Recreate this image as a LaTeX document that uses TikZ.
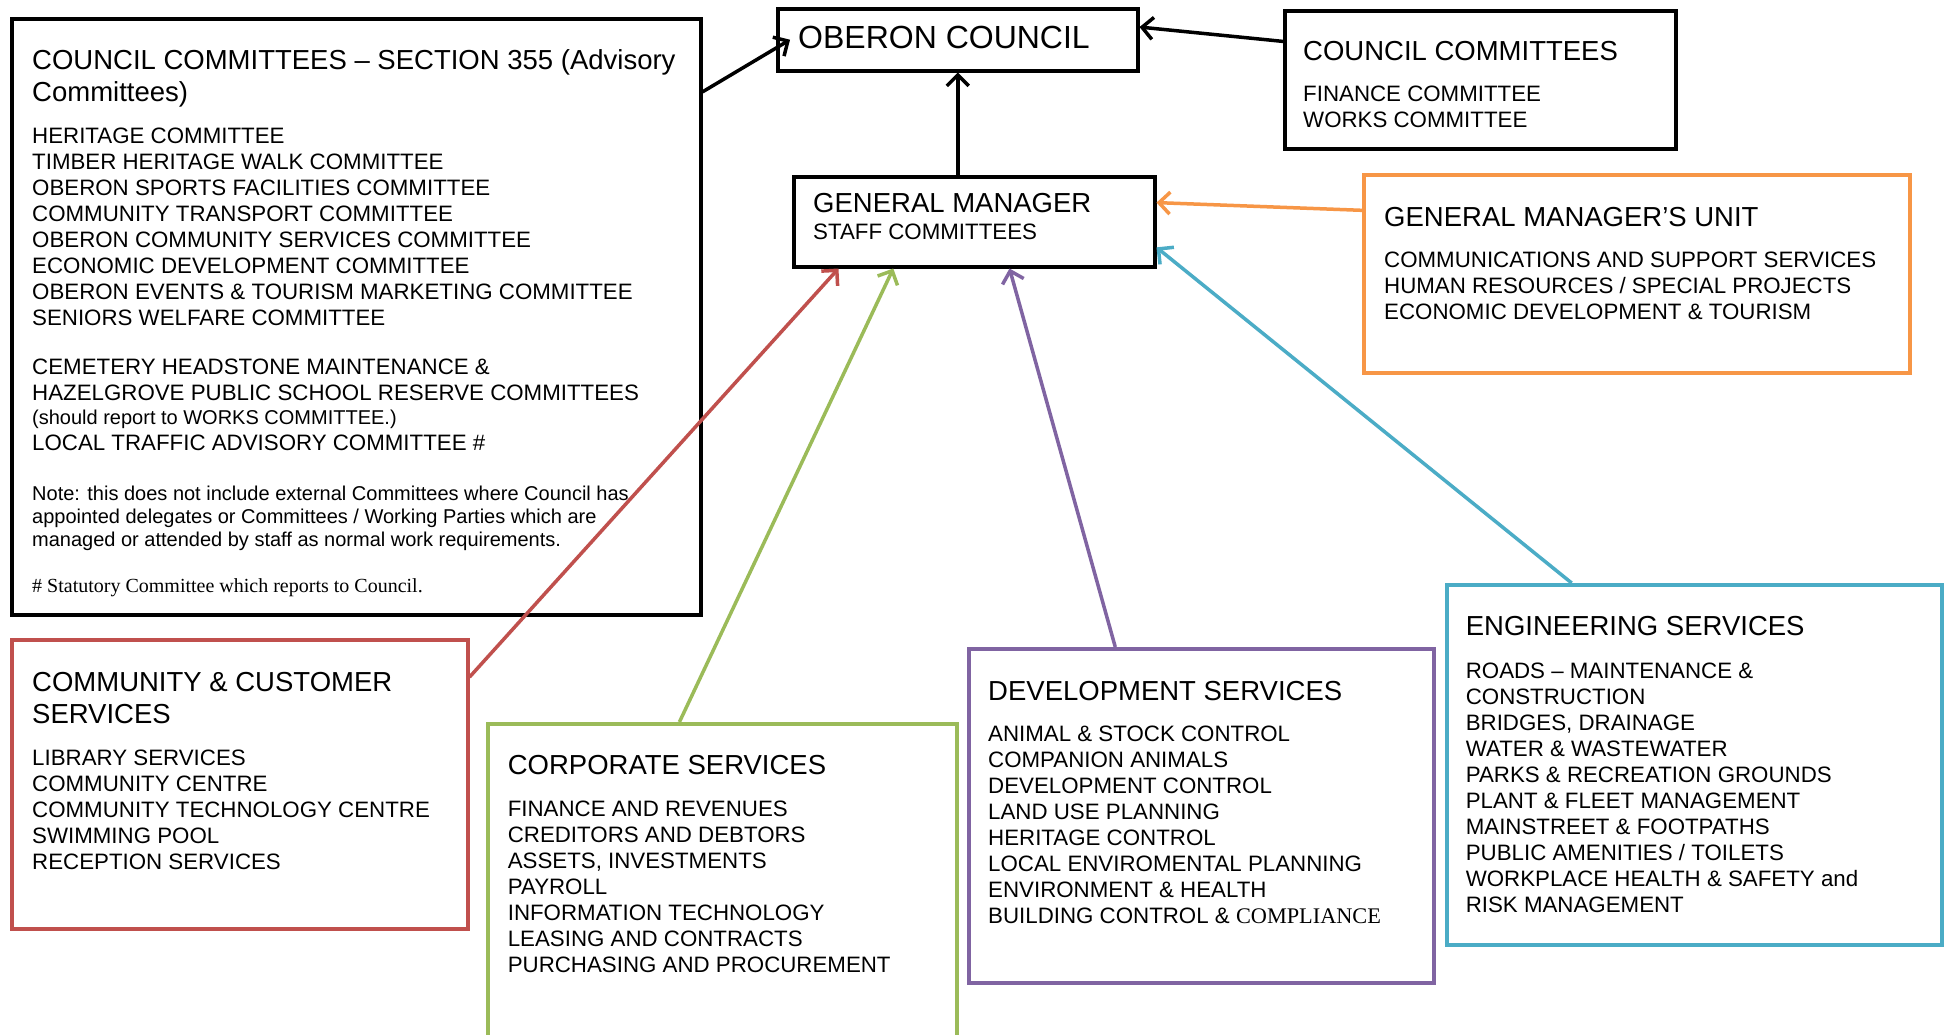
\documentclass[tikz,border=0pt]{standalone}
\usepackage{fontspec}
\setmainfont{Liberation Sans}
\newfontfamily\timesfam{Liberation Serif}
\usetikzlibrary{arrows.meta}
\definecolor{cRed}{HTML}{C0504D}
\definecolor{cGreen}{HTML}{9BBB59}
\definecolor{cPurple}{HTML}{8064A2}
\definecolor{cBlue}{HTML}{4BACC6}
\definecolor{cOrange}{HTML}{F79646}
\newcommand\fTitle{\fontsize{32}{37}\selectfont}
\newcommand\fHead{\fontsize{27.5}{32}\selectfont}
\newcommand\fList{\fontsize{22.3}{26}\selectfont}
\newcommand\fSmall{\fontsize{20}{23}\selectfont}
\begin{document}
\begin{tikzpicture}[x=1pt,y=-1pt,
  orgbox/.style={draw=#1, line width=3.5pt, fill=white, inner sep=0pt, anchor=north west},
  lbl/.style={inner sep=0pt, anchor=base west, align=left},
  arr/.style={draw=#1, line width=3.5pt, -{Straight Barb[length=11pt,width=22pt]}},
]
\useasboundingbox[fill=white] (0,0) rectangle (1946,1034);

% boxes
\node[orgbox=black, minimum width=689pt, minimum height=596pt] (s355) at (10,17) {};
\node[orgbox=black, minimum width=360pt, minimum height=62pt] (oberon) at (776,7) {};
\node[orgbox=black, minimum width=391pt, minimum height=138pt] (ccom) at (1283,9) {};
\node[orgbox=black, minimum width=361pt, minimum height=90pt] (gm) at (792,175) {};
\node[orgbox=cOrange, minimum width=546pt, minimum height=198pt] (gmu) at (1362,173) {};
\node[orgbox=cRed, minimum width=456pt, minimum height=289pt] (ccs) at (10,638) {};
\node[orgbox=cGreen, minimum width=469pt, minimum height=340pt] (corp) at (486,722) {};
\node[orgbox=cPurple, minimum width=465pt, minimum height=334pt] (dev) at (967,647) {};
\node[orgbox=cBlue, minimum width=495pt, minimum height=360pt] (eng) at (1445,583) {};

% (multi-line labels: anchor is the baseline of the LAST line)
% S355 texts
\node[lbl, font=\fHead] (s355h) at (32,101.5) {COUNCIL COMMITTEES – SECTION 355 (Advisory\\Committees)};
\node[lbl, font=\fList] (s355a) at (32,325.3) {HERITAGE COMMITTEE\\TIMBER HERITAGE WALK COMMITTEE\\OBERON SPORTS FACILITIES COMMITTEE\\COMMUNITY TRANSPORT COMMITTEE\\OBERON COMMUNITY SERVICES COMMITTEE\\ECONOMIC DEVELOPMENT COMMITTEE\\OBERON EVENTS \& TOURISM MARKETING COMMITTEE\\SENIORS WELFARE COMMITTEE};
\node[lbl, font=\fList] (s355b) at (32,400) {CEMETERY HEADSTONE MAINTENANCE \&\\HAZELGROVE PUBLIC SCHOOL RESERVE COMMITTEES};
\node[lbl, font=\fSmall] (s355c) at (32,424) {(should report to WORKS COMMITTEE.)};
\node[lbl, font=\fList] (s355d) at (32,450) {LOCAL TRAFFIC ADVISORY COMMITTEE \#};
\node[lbl, font=\fSmall] (s355n) at (32,546) {Note: this does not include external Committees where Council has\\appointed delegates or Committees / Working Parties which are\\managed or attended by staff as normal work requirements.};
\node[lbl, font=\fSmall\timesfam] (s355s) at (32,592) {\# Statutory Committee which reports to Council.};

% Oberon council
\node[lbl, font=\fTitle] (obt) at (798,48.7) {OBERON COUNCIL};

% council committees
\node[lbl, font=\fHead] (ccomh) at (1303,60.7) {COUNCIL COMMITTEES};
\node[lbl, font=\fList] (ccoml) at (1303,127) {FINANCE COMMITTEE\\WORKS COMMITTEE};

% general manager
\node[lbl, font=\fHead] (gmh) at (813,212) {GENERAL MANAGER};
\node[lbl, font=\fList] (gml) at (813,239) {STAFF COMMITTEES};

% GM unit
\node[lbl, font=\fHead] (gmuh) at (1384,226) {GENERAL MANAGER’S UNIT};
\node[lbl, font=\fList] (gmul) at (1384,319.4) {COMMUNICATIONS AND SUPPORT SERVICES\\HUMAN RESOURCES / SPECIAL PROJECTS\\ECONOMIC DEVELOPMENT \& TOURISM};

% community & customer
\node[lbl, font=\fHead] (ccsh) at (32,723) {COMMUNITY \& CUSTOMER\\SERVICES};
\node[lbl, font=\fList] (ccsl) at (32,869) {LIBRARY SERVICES\\COMMUNITY CENTRE\\COMMUNITY TECHNOLOGY CENTRE\\SWIMMING POOL\\RECEPTION SERVICES};

% corporate
\node[lbl, font=\fHead] (corph) at (507.6,774.3) {CORPORATE SERVICES};
\node[lbl, font=\fList] (corpl) at (507.6,972) {FINANCE AND REVENUES\\CREDITORS AND DEBTORS\\ASSETS, INVESTMENTS\\PAYROLL\\INFORMATION TECHNOLOGY\\LEASING AND CONTRACTS\\PURCHASING AND PROCUREMENT};

% development
\node[lbl, font=\fHead] (devh) at (988,700) {DEVELOPMENT SERVICES};
\node[lbl, font=\fList] (devl) at (988,923.4) {ANIMAL \& STOCK CONTROL\\COMPANION ANIMALS\\DEVELOPMENT CONTROL\\LAND USE PLANNING\\HERITAGE CONTROL\\LOCAL ENVIROMENTAL PLANNING\\ENVIRONMENT \& HEALTH\\BUILDING CONTROL \& {\timesfam COMPLIANCE}};

% engineering
\node[lbl, font=\fHead] (engh) at (1465.6,635.3) {ENGINEERING SERVICES};
\node[lbl, font=\fList] (engl) at (1465.6,912) {ROADS – MAINTENANCE \&\\CONSTRUCTION\\BRIDGES, DRAINAGE\\WATER \& WASTEWATER\\PARKS \& RECREATION GROUNDS\\PLANT \& FLEET MANAGEMENT\\MAINSTREET \& FOOTPATHS\\PUBLIC AMENITIES / TOILETS\\WORKPLACE HEALTH \& SAFETY and\\RISK MANAGEMENT};

% connectors
\draw[arr=black] (s355.33.96) -- ([xshift=14pt]oberon.west);
\draw[arr=black] (ccom.169) -- (oberon.4.76);
\draw[arr=black] (gm.north -| oberon.south) -- (oberon.south);
\draw[arr=cOrange] (gmu.167.2) -- (gm.6);
\draw[arr=cRed] (ccs.25.45) -- (gm.-161.2);
\draw[arr=cGreen] (corp.104.04) -- (gm.-150.2);
\draw[arr=cPurple] (dev.117.1) -- (gm.-53.3);
\draw[arr=cBlue] (eng.124.45) -- (gm.-8.5);
\end{tikzpicture}
\end{document}
